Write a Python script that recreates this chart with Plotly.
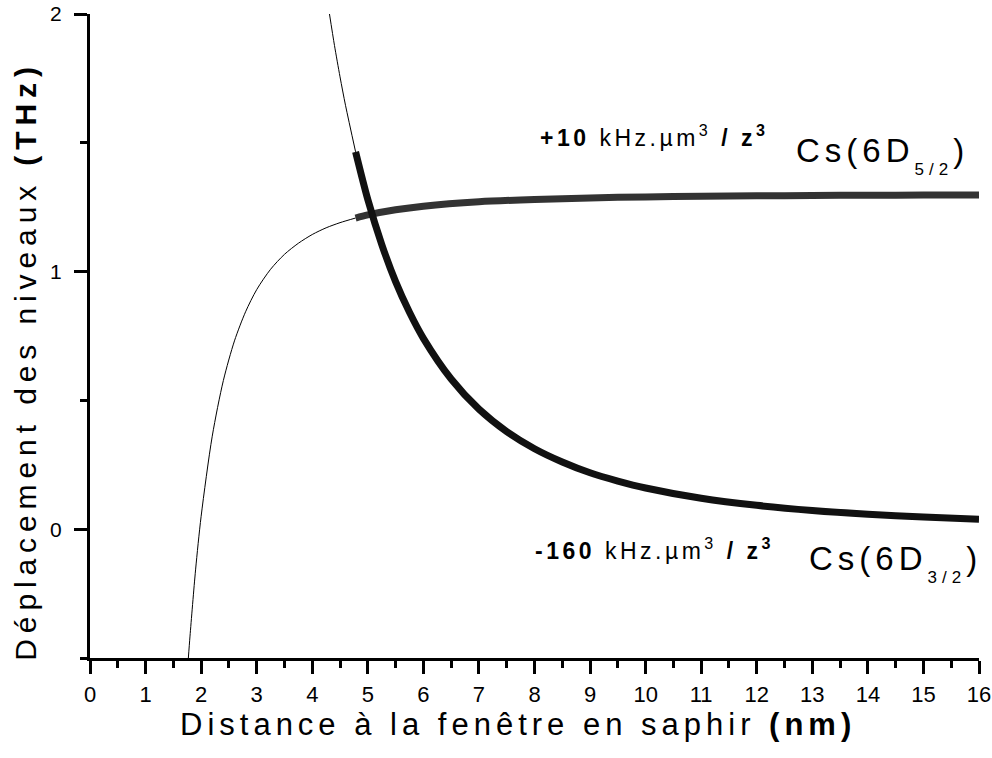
import plotly.graph_objects as go

# Cs(6D5/2) level shift (THz) vs distance z (nm): thin = extrapolated part, thick = main part
z_d52_thin = [1.77, 1.8, 1.9, 2.0, 2.2, 2.4, 2.6, 2.8, 3.0, 3.25, 3.5, 3.75, 4.0, 4.25, 4.5, 4.78]
shift_d52_thin = [-0.50, -0.415, -0.158, 0.05, 0.361, 0.577, 0.731, 0.844, 0.930, 1.009, 1.067,
                  1.110, 1.144, 1.170, 1.190, 1.208]
z_d52_thick = [4.78, 5.0, 5.5, 6, 7, 8, 9, 10, 11, 12, 13, 14, 15, 16]
shift_d52_thick = [1.208, 1.220, 1.240, 1.254, 1.271, 1.280, 1.286, 1.290, 1.2925, 1.294,
                   1.2955, 1.2964, 1.297, 1.2976]

# Cs(6D3/2) level shift (THz)
z_d32_thin = [4.31, 4.4, 4.5, 4.6, 4.78]
shift_d32_thin = [2.0, 1.878, 1.756, 1.644, 1.465]
z_d32_thick = [4.78, 5.0, 5.25, 5.5, 5.75, 6, 6.5, 7, 7.5, 8, 8.5, 9, 9.5, 10, 11, 12, 13, 14, 15, 16]
shift_d32_thick = [1.465, 1.28, 1.106, 0.961, 0.842, 0.741, 0.583, 0.466, 0.379, 0.3125, 0.261,
                   0.219, 0.187, 0.160, 0.120, 0.0926, 0.0728, 0.0583, 0.0474, 0.039]

x_range = [0, 16]
y_range = [-0.5, 2]

FONT = "Liberation Sans, Arial, sans-serif"

fig = go.Figure()
fig.add_trace(go.Scatter(x=z_d52_thin, y=shift_d52_thin, mode="lines",
                         line=dict(color="#000000", width=1, shape="spline", smoothing=0.8),
                         showlegend=False, hoverinfo="skip"))
fig.add_trace(go.Scatter(x=z_d32_thin, y=shift_d32_thin, mode="lines",
                         line=dict(color="#000000", width=1, shape="spline", smoothing=0.8),
                         showlegend=False, hoverinfo="skip"))
fig.add_trace(go.Scatter(x=z_d52_thick, y=shift_d52_thick, mode="lines",
                         line=dict(color="#333333", width=7, shape="spline", smoothing=0.8),
                         showlegend=False))
fig.add_trace(go.Scatter(x=z_d32_thick, y=shift_d32_thick, mode="lines",
                         line=dict(color="#111111", width=7, shape="spline", smoothing=0.8),
                         showlegend=False))

axis_common = dict(
    showgrid=False, zeroline=False, showline=True, linecolor="black", linewidth=3,
    ticks="outside", ticklen=13, tickwidth=2.5, tickcolor="black",
    mirror=False, automargin=False,
)
fig.update_xaxes(range=x_range, tick0=0, dtick=1, ticklabelstandoff=2,
                 tickfont=dict(family=FONT, size=22, color="black"),
                 minor=dict(dtick=0.5, ticklen=7, tickwidth=2.5, tickcolor="black", ticks="outside"),
                 **axis_common)
fig.update_yaxes(range=y_range, tick0=0, dtick=1, ticklabelstandoff=8,
                 tickfont=dict(family=FONT, size=21, color="black"),
                 minor=dict(dtick=0.5, ticklen=7, tickwidth=2.5, tickcolor="black", ticks="outside"),
                 **axis_common)

annotations = [
    dict(text="Distance à la fenêtre en saphir <b>(nm)</b>", xref="paper", yref="paper",
         x=0.482, y=-0.104, xanchor="center", yanchor="middle", showarrow=False,
         font=dict(family=FONT, size=31, color="black")),
    dict(text="Déplacement des niveaux <b>(THz)</b>", xref="paper", yref="paper",
         x=-0.073, y=0.461, xanchor="center", yanchor="middle", textangle=-90, showarrow=False,
         font=dict(family=FONT, size=30, color="black")),
    dict(text="<b>+10</b> kHz.µm<sup>3</sup> <b>/ z<sup>3</sup></b>", xref="paper", yref="paper",
         x=0.504, y=0.81, xanchor="left", yanchor="middle", align="left", showarrow=False,
         font=dict(family=FONT, size=23, color="black")),
    dict(text="Cs(6D<sub><span style='font-size:17px;baseline-shift:-6px'>5/2</span></sub>)",
         xref="paper", yref="paper",
         x=0.792, y=0.781, xanchor="left", yanchor="middle", align="left", showarrow=False,
         font=dict(family=FONT, size=33, color="black")),
    dict(text="<b>-160</b> kHz.µm<sup>3</sup> <b>/ z<sup>3</sup></b>", xref="paper", yref="paper",
         x=0.498, y=0.17, xanchor="left", yanchor="middle", align="left", showarrow=False,
         font=dict(family=FONT, size=23, color="black")),
    dict(text="Cs(6D<sub><span style='font-size:17px;baseline-shift:-6px'>3/2</span></sub>)",
         xref="paper", yref="paper",
         x=0.807, y=0.146, xanchor="left", yanchor="middle", align="left", showarrow=False,
         font=dict(family=FONT, size=33, color="black")),
]

fig.update_layout(
    width=992, height=758,
    margin=dict(l=90, r=13, t=14, b=100),
    plot_bgcolor="white", paper_bgcolor="white",
    font=dict(family=FONT, color="black"),
    annotations=annotations,
    showlegend=False,
)

post = """
document.body.style.margin='0';
var gd=document.getElementById('{plot_id}');
function sp(i,v){gd.querySelectorAll('g.annotation[data-index="'+i+'"] text').forEach(function(t){t.style.letterSpacing=v;});}
sp(0,'5px'); sp(1,'5.9px'); sp(2,'3.5px'); sp(3,'5px'); sp(4,'3.5px'); sp(5,'5px');
"""

fig.write_html("out.html", post_script=post, config={"displayModeBar": False})
